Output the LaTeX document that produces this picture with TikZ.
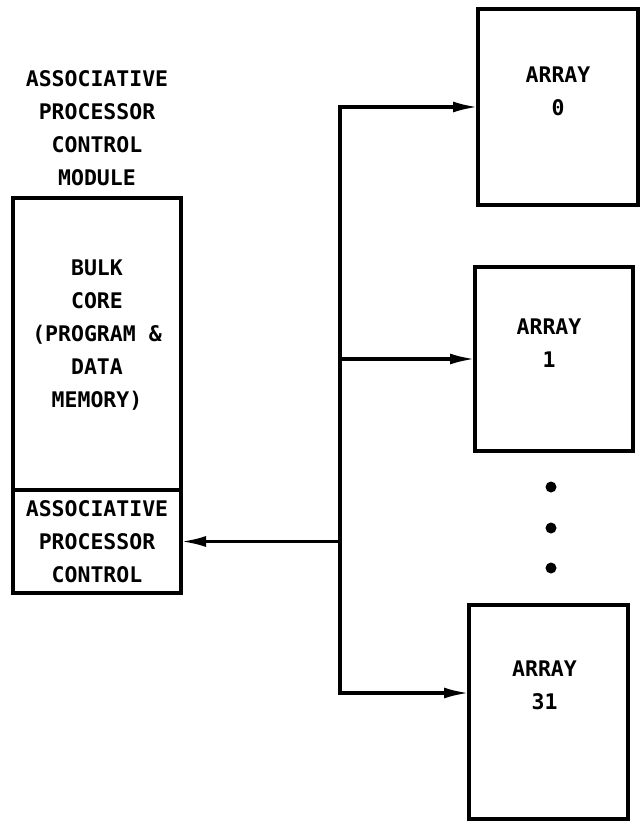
\documentclass[tikz,border=0pt]{standalone}
\usepackage{fontspec}
\newfontfamily\monofont{DejaVu Sans Mono}
\usetikzlibrary{arrows.meta,positioning}

\begin{document}
\begin{tikzpicture}[
  x=1pt,y=-1pt,
  txt/.style={font={\monofont\bfseries\fontsize{21.5}{33}\selectfont},align=center,inner sep=0pt},
  core/.style={draw,line width=3.2pt,outer sep=0pt,inner sep=0pt,minimum width=168pt},
  arraybox/.style={draw,line width=3.2pt,outer sep=0pt,inner sep=0pt},
  arr/.style={-{Latex[length=25pt,width=11pt]},line width=3.2pt},
  both/.style={{Latex[length=25pt,width=11pt]}-{Latex[length=25pt,width=11pt]},line width=3.2pt}
]
\useasboundingbox (0,0) rectangle (640,822);
% control module
\node[txt] (apcm) at (97,128) {ASSOCIATIVE\\PROCESSOR\\CONTROL\\MODULE};
\node[core,minimum height=292pt] (bulk) at (97,344) {};
\node[txt] (bulktxt) at ([yshift=9pt]bulk.center) {BULK\\CORE\\(PROGRAM \&\\DATA\\MEMORY)};
\node[core,txt,minimum height=103pt,below=0pt of bulk] (apc) {ASSOCIATIVE\\PROCESSOR\\CONTROL};
% arrays
\node[arraybox,minimum width=160pt,minimum height=196pt] (a0) at (558,107) {};
\node[arraybox,minimum width=158pt,minimum height=184pt] (a1) at (554,359) {};
\node[arraybox,minimum width=159pt,minimum height=214pt] (a31) at (548.5,712) {};
\node[txt] (a0txt) at ([yshift=16pt]a0.center) {ARRAY\\0};
\node[txt] (a1txt) at ([yshift=16pt,xshift=-5pt]a1.center) {ARRAY\\1};
\node[txt] (a31txt) at ([yshift=27pt,xshift=-4pt]a31.center) {ARRAY\\31};
\foreach \y in {487,528,568} \fill (551,\y) circle (5.5pt);
% bus
\coordinate (busx) at (340,0);
\coordinate (busbot) at (340,693);
\draw[both] (a0.west) -| (busbot) -- (busbot -| a31.west);
\draw[arr] (a1.west -| busx) -- (a1.west);
\draw[arr] (apc.east -| busx) -- (apc.east);
\end{tikzpicture}
\end{document}
